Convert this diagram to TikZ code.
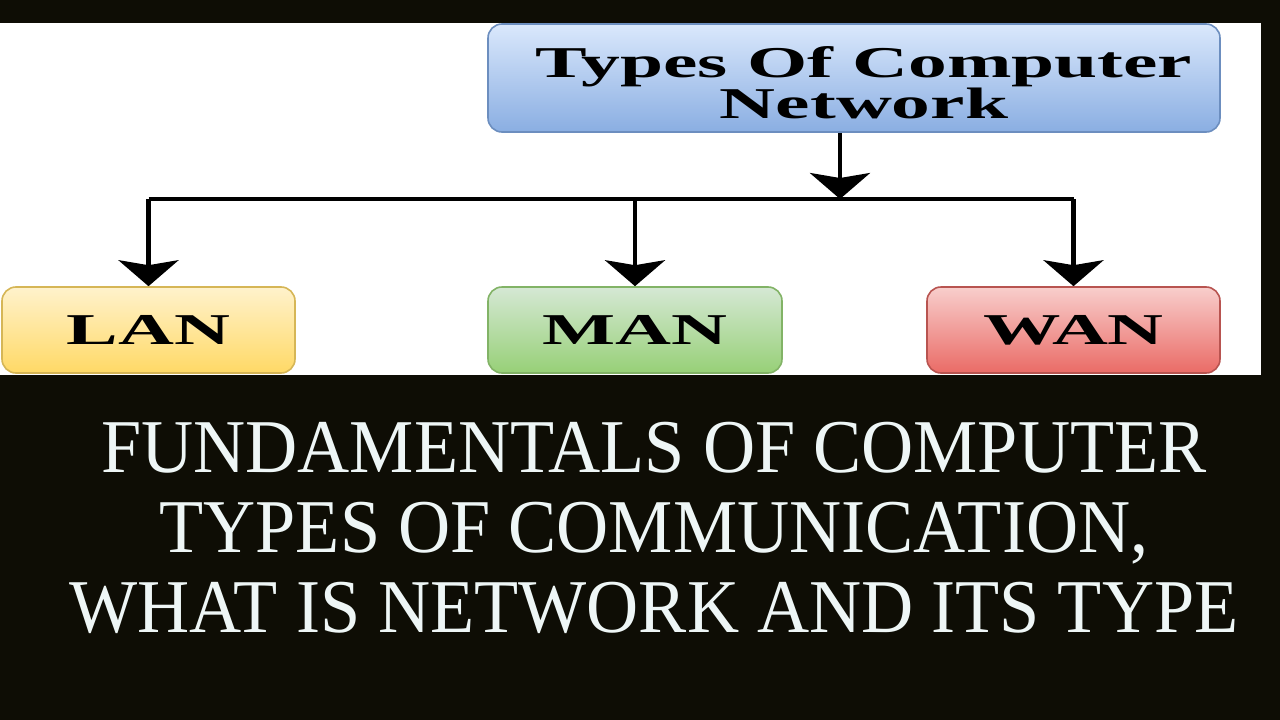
\documentclass[tikz,border=0pt]{standalone}
\usepackage{fontspec}
\setmainfont{Liberation Serif}
\newfontfamily\boxfont{Liberation Serif}[FakeStretch=1.76]
\newfontfamily\titlefont{Liberation Serif}[FakeStretch=0.95]
\usetikzlibrary{arrows.meta}
\definecolor{bgdark}{RGB}{14,13,5}
\definecolor{titlefg}{HTML}{EEF6F6}
\definecolor{blueline}{HTML}{6C8EBF}
\definecolor{bluetop}{HTML}{DAE8FC}
\definecolor{bluebot}{HTML}{8AAEE2}
\definecolor{yelline}{HTML}{D6B656}
\definecolor{yeltop}{HTML}{FFF2CC}
\definecolor{yelbot}{HTML}{FFD966}
\definecolor{grnline}{HTML}{82B366}
\definecolor{grntop}{HTML}{D5E8D4}
\definecolor{grnbot}{HTML}{97D077}
\definecolor{redline}{HTML}{B85450}
\definecolor{redtop}{HTML}{F8CECC}
\definecolor{redbot}{HTML}{EA6B66}
\begin{document}
\begin{tikzpicture}[x=1pt, y=-1pt,
  kind/.style n args={4}{draw=#1, top color=#2, bottom color=#3, line width=1.6pt,
               rounded corners=14pt, minimum width=#4, minimum height=86pt,
               align=center, font=\boxfont\bfseries\fontsize{44}{40}\selectfont},
  bus/.style={line width=3.5pt},
  conn/.style={line width=4.5pt, -{Stealth[length=26pt, width=60pt, inset=5pt]}}
]
  % background and white panel
  \fill[bgdark] (0,0) rectangle (1280,720);
  \fill[white] (0,23) rectangle (1261,375);

  \node[kind={blueline}{bluetop}{bluebot}{732pt}, minimum height=108pt] (top) at (854,78)
    {\rule{0pt}{40pt}\hspace*{20pt}Types Of Computer\\\hspace*{20pt}Network};
  \node[kind={yelline}{yeltop}{yelbot}{293pt}] (lan) at (148.5,330) {LAN};
  \node[kind={grnline}{grntop}{grnbot}{294pt}] (man) at (635,330)   {MAN};
  \node[kind={redline}{redtop}{redbot}{293pt}] (wan) at (1073.5,330) {WAN};

  \coordinate (join) at (840,199);
  \draw[conn] (top.south -| join) -- (join);
  \draw[bus] (lan.north |- join) -- (wan.north |- join);
  \foreach \n in {lan,man,wan}
    \draw[conn] (\n.north |- join) -- (\n.north);

  \node[text=titlefg, align=center, font=\titlefont\fontsize{76}{80}\selectfont]
    (title) at (654,528) {FUNDAMENTALS OF COMPUTER\\TYPES OF COMMUNICATION,\\WHAT IS NETWORK AND ITS TYPE};
\end{tikzpicture}
\end{document}
